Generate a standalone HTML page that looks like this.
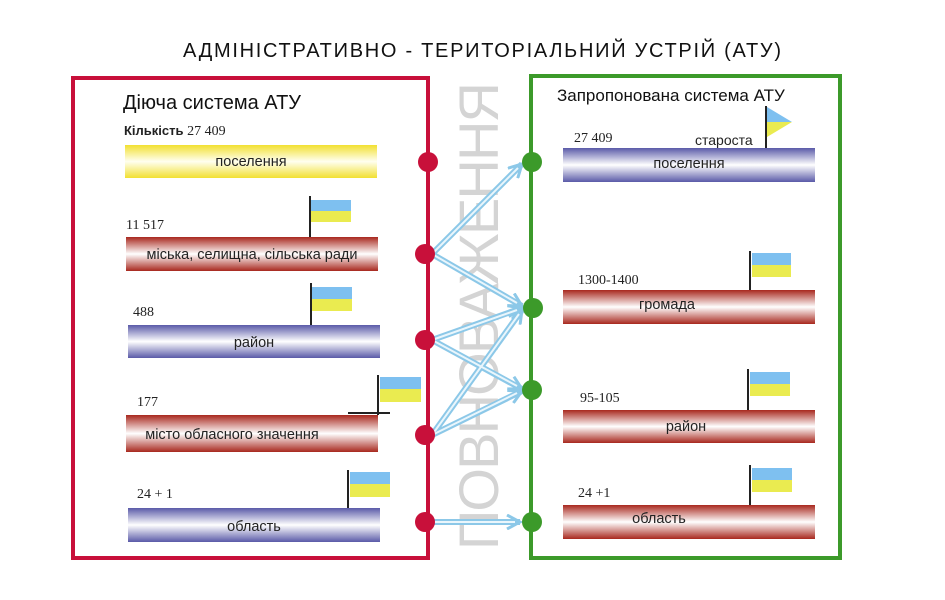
<!DOCTYPE html>
<html><head><meta charset="utf-8"><style>html,body{margin:0;padding:0;background:#fff;}svg{display:block}</style></head>
<body>
<svg width="945" height="600" viewBox="0 0 945 600" xmlns="http://www.w3.org/2000/svg" font-family="'Liberation Sans', 'DejaVu Sans', sans-serif">
<defs>
<linearGradient id="yel" x1="0" y1="0" x2="0" y2="1"><stop offset="0" stop-color="#f2e030"/><stop offset="0.5" stop-color="#fffff0"/><stop offset="1" stop-color="#f2e030"/></linearGradient>
<linearGradient id="red" x1="0" y1="0" x2="0" y2="1"><stop offset="0" stop-color="#a8281e"/><stop offset="0.5" stop-color="#ffffff"/><stop offset="1" stop-color="#a8281e"/></linearGradient>
<linearGradient id="blu" x1="0" y1="0" x2="0" y2="1"><stop offset="0" stop-color="#5a5aa8"/><stop offset="0.5" stop-color="#ffffff"/><stop offset="1" stop-color="#5a5aa8"/></linearGradient>
<marker id="ar" markerWidth="16" markerHeight="16" refX="14" refY="8" orient="auto" markerUnits="userSpaceOnUse"><path d="M1,1 L14,8 L1,15" fill="none" stroke="#8cc8e8" stroke-width="3"/></marker>
</defs>
<text x="482" y="57" font-size="20" text-anchor="middle" textLength="598" fill="#111">АДМІНІСТРАТИВНО - ТЕРИТОРІАЛЬНИЙ УСТРІЙ (АТУ)</text>
<text transform="translate(498,316) rotate(-90)" font-size="56" text-anchor="middle" fill="#d4d4d4" textLength="468">ПОВНОВАЖЕННЯ</text>
<rect x="73" y="78" width="355" height="480" fill="none" stroke="#c8103a" stroke-width="4"/>
<rect x="531" y="76" width="309" height="482" fill="none" stroke="#3c9a2a" stroke-width="4"/>
<g stroke="#8cc8e8" stroke-width="6" fill="none" marker-end="url(#ar)">
<line x1="432" y1="254" x2="522" y2="164"/><line x1="432" y1="254" x2="522" y2="306"/>
<line x1="432" y1="340" x2="522" y2="308"/><line x1="432" y1="340" x2="522" y2="389"/>
<line x1="432" y1="435" x2="522" y2="310"/><line x1="432" y1="435" x2="522" y2="391"/>
<line x1="432" y1="522" x2="520" y2="522"/>
</g>
<g stroke="#eaf6fc" stroke-width="2" fill="none">
<line x1="432" y1="254" x2="518" y2="168"/><line x1="432" y1="254" x2="517" y2="303"/>
<line x1="432" y1="340" x2="517" y2="310"/><line x1="432" y1="340" x2="517" y2="386"/>
<line x1="432" y1="435" x2="519" y2="314"/><line x1="432" y1="435" x2="517" y2="393"/>
<line x1="432" y1="522" x2="515" y2="522"/>
</g>
<g fill="#c8103a"><circle cx="428" cy="162" r="10"/><circle cx="425" cy="254" r="10"/><circle cx="425" cy="340" r="10"/><circle cx="425" cy="435" r="10"/><circle cx="425" cy="522" r="10"/></g>
<g fill="#3c9a2a"><circle cx="532" cy="162" r="10"/><circle cx="533" cy="308" r="10"/><circle cx="532" cy="390" r="10"/><circle cx="532" cy="522" r="10"/></g>
<text x="123" y="109" font-size="20" fill="#111">Діюча система АТУ</text>
<text x="124" y="135" font-size="13" fill="#222" font-weight="bold">Кількість <tspan font-family="'Liberation Serif',serif" font-weight="normal" font-size="14">27 409</tspan></text>
<g font-size="14.5" fill="#222" text-anchor="middle">
<rect x="125" y="145" width="252" height="33" fill="url(#yel)"/><text x="251" y="166">поселення</text>
<rect x="126" y="237" width="252" height="34" fill="url(#red)"/><text x="252" y="259">міська, селищна, сільська ради</text>
<rect x="128" y="325" width="252" height="33" fill="url(#blu)"/><text x="254" y="347">район</text>
<rect x="126" y="415" width="252" height="37" fill="url(#red)"/><text x="232" y="439">місто обласного значення</text>
<rect x="128" y="508" width="252" height="34" fill="url(#blu)"/><text x="254" y="531">область</text>
<rect x="563" y="148" width="252" height="34" fill="url(#blu)"/><text x="689" y="168">поселення</text>
<rect x="563" y="290" width="252" height="34" fill="url(#red)"/><text x="667" y="309">громада</text>
<rect x="563" y="410" width="252" height="33" fill="url(#red)"/><text x="686" y="431">район</text>
<rect x="563" y="505" width="252" height="34" fill="url(#red)"/><text x="659" y="523">область</text>
</g>
<g font-family="'Liberation Serif',serif" font-size="14" fill="#222">
<text x="126" y="229">11 517</text><text x="133" y="316">488</text><text x="137" y="406">177</text><text x="137" y="498">24 + 1</text>
<text x="574" y="142">27 409</text><text x="578" y="284">1300-1400</text><text x="580" y="402">95-105</text><text x="578" y="497">24 +1</text>
</g>
<text x="695" y="145" font-size="14" fill="#222">староста</text>
<text x="557" y="101" font-size="17" fill="#111">Запропонована система АТУ</text>
<g stroke="#222" stroke-width="2">
<line x1="310" y1="196" x2="310" y2="237"/><line x1="311" y1="283" x2="311" y2="325"/>
<line x1="378" y1="375" x2="378" y2="415"/><line x1="348" y1="413" x2="390" y2="413"/>
<line x1="348" y1="470" x2="348" y2="508"/><line x1="766" y1="106" x2="766" y2="148"/>
<line x1="750" y1="251" x2="750" y2="290"/><line x1="748" y1="369" x2="748" y2="410"/><line x1="750" y1="465" x2="750" y2="505"/>
</g>
<g>
<rect x="311" y="200" width="40" height="11" fill="#7ec0f0"/><rect x="311" y="211" width="40" height="11" fill="#eaeb50"/>
<rect x="312" y="287" width="40" height="12" fill="#7ec0f0"/><rect x="312" y="299" width="40" height="12" fill="#eaeb50"/>
<rect x="380" y="377" width="41" height="12" fill="#7ec0f0"/><rect x="380" y="389" width="41" height="13" fill="#eaeb50"/>
<rect x="350" y="472" width="40" height="12" fill="#7ec0f0"/><rect x="350" y="484" width="40" height="13" fill="#eaeb50"/>
<rect x="752" y="253" width="39" height="12" fill="#7ec0f0"/><rect x="752" y="265" width="39" height="12" fill="#eaeb50"/>
<rect x="750" y="372" width="40" height="12" fill="#7ec0f0"/><rect x="750" y="384" width="40" height="12" fill="#eaeb50"/>
<rect x="752" y="468" width="40" height="12" fill="#7ec0f0"/><rect x="752" y="480" width="40" height="12" fill="#eaeb50"/>
<polygon points="767,107 792,122 767,122" fill="#7ec0f0"/><polygon points="767,122 792,122 767,137" fill="#eaeb50"/>
</g>
</svg>
</body></html>
